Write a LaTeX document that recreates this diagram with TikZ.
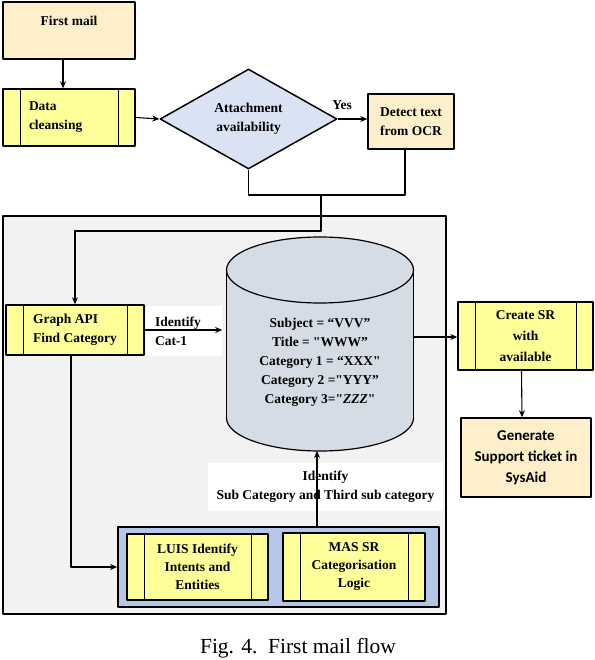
\documentclass[tikz,border=0pt]{standalone}
\usepackage{fontspec}
\setmainfont{Liberation Serif}[BoldFont={Liberation Serif Bold}, ItalicFont={Liberation Serif Italic}, BoldItalicFont={Liberation Serif Bold Italic}]
\newfontfamily\calibfont{Carlito}
\usetikzlibrary{shapes.geometric,arrows.meta}
\definecolor{mailorange}{HTML}{FDEFCA}
\definecolor{procyellow}{HTML}{FFFF99}
\definecolor{decblue}{HTML}{DAE3F3}
\definecolor{panelgray}{HTML}{F2F2F2}
\definecolor{dbgray}{HTML}{D6DCE5}
\definecolor{groupblue}{HTML}{B4C7E7}
\begin{document}
\begin{tikzpicture}[x=1pt, y=-1pt, line join=round, >={Stealth[length=7pt,width=6pt]},
	font=\bfseries\fontsize{13.5}{19}\selectfont,
	mailbox/.style={draw, line width=1.5pt, fill=mailorange, inner sep=0pt},
	procbox/.style={draw, line width=1.5pt, fill=procyellow, inner sep=0pt,
		path picture={\draw[line width=1pt] ([xshift=17pt]path picture bounding box.north west) -- ([xshift=17pt]path picture bounding box.south west) ([xshift=-17pt]path picture bounding box.north east) -- ([xshift=-17pt]path picture bounding box.south east);}},
	labelbox/.style={fill=white, inner sep=0pt},
	conn/.style={line width=1.1pt}]
	\useasboundingbox (0,0) rectangle (594,660);
	% panel and the database
	\node[draw, line width=1.8pt, fill=panelgray, minimum width=443pt, minimum height=398pt] (panel) at (224.5,415) {};
	\draw[fill=dbgray, line width=1.2pt] (320,418) ellipse[x radius=93.5, y radius=33];
	\fill[dbgray] (226.5,270) rectangle (413.5,418);
	\draw[line width=1.2pt] (226.5,270) -- (226.5,418) (413.5,270) -- (413.5,418);
	\draw[fill=dbgray, line width=1.2pt] (320,270) ellipse[x radius=93.5, y radius=33];
	\node[align=center] (db) at (320,362) {Subject = “VVV”\\Title = \textquotedbl WWW”\\Category 1 = “XXX\textquotedbl\\Category 2 =\textquotedbl YYY”\\Category 3=\textquotedbl\textit{ZZZ}\textquotedbl};
	\coordinate (dbright) at (413.5,337);
	\coordinate (dbbot) at (317,451);
	% top row
	\node[mailbox, minimum width=132pt, minimum height=57pt, text depth=20pt] (mail) at (69,30.5) {First mail};
	\node[procbox, minimum width=132pt, minimum height=57pt, text width=80pt, align=left] (clean) at (69,117.5) {Data\\cleansing};
	\node[draw, line width=1.5pt, fill=decblue, shape=diamond, aspect=1.77, minimum width=177pt, minimum height=100pt, inner sep=0pt, align=center] (attach) at (248.5,119) {Attachment\\availability};
	\node[mailbox, minimum width=86pt, minimum height=55pt, align=center] (ocr) at (411,121.5) {Detect text\\from OCR};
	\draw[conn,->] ([xshift=-6pt]mail.south) -- ([xshift=-6pt]clean.north);
	\draw[conn,->] (clean.east) -- (attach.west);
	\draw[conn,->] (attach.east) -- node[pos=0.15, above=9pt, inner sep=0pt]{Yes} (attach.east -| ocr.west);
	\coordinate (join) at (321,195);
	\draw[conn] (attach.south) |- (join) -| ([xshift=-6pt]ocr.south);
	% inside the panel
	\node[procbox, minimum width=138pt, minimum height=50pt, align=left] (api) at (75,330) {Graph API\\Find Category};
	\node[labelbox, minimum width=76pt, minimum height=50pt, text width=58pt, align=left] (catlbl) at (184,331) {Identify\\Cat-1};
	\node[labelbox, minimum width=235pt, minimum height=48pt, align=center] (sublbl) at (325.5,487) {Identify\\Sub Category and Third sub category};
	\node[draw, line width=2pt, fill=groupblue, minimum width=321pt, minimum height=80pt] (blue) at (278.5,567) {};
	\node[procbox, minimum width=141pt, minimum height=66pt, align=center, font=\bfseries\fontsize{13.5}{18}\selectfont] (luis) at (197.5,567) {LUIS Identify\\Intents and\\Entities};
	\node[procbox, minimum width=142pt, minimum height=68pt, align=center, font=\bfseries\fontsize{13.5}{18}\selectfont] (mas) at (354,567) {MAS SR\\Categorisation\\Logic};
	\draw[conn,->] (join) -- ++(0,36) -| (api.north);
	\draw[conn,->] (api.east) -- (api.east -| catlbl.east);
	\draw[conn,->] ([xshift=-4pt]api.south) |- (blue.west);
	\draw[conn,->] (blue.north -| dbbot) -- (dbbot);
	% right column
	\node[procbox, minimum width=135pt, minimum height=68pt, align=center, font=\bfseries\fontsize{13.5}{21}\selectfont] (sr) at (525.5,336) {Create SR\\with\\available};
	\node[mailbox, minimum width=130pt, minimum height=79pt, align=center, font=\calibfont\bfseries\fontsize{15}{21}\selectfont] (gen) at (526,457.5) {Generate\\Support ticket in\\SysAid};
	\draw[conn,->] (dbright) -- (sr.west |- dbright);
	\draw[conn,->] ([xshift=-4pt]sr.south) -- ([xshift=-4pt]gen.north);
	% caption
	\node[font=\mdseries\fontsize{21.5}{24}\selectfont] (caption) at (298,648) {Fig. 4.\ \ First mail flow};
\end{tikzpicture}
\end{document}
